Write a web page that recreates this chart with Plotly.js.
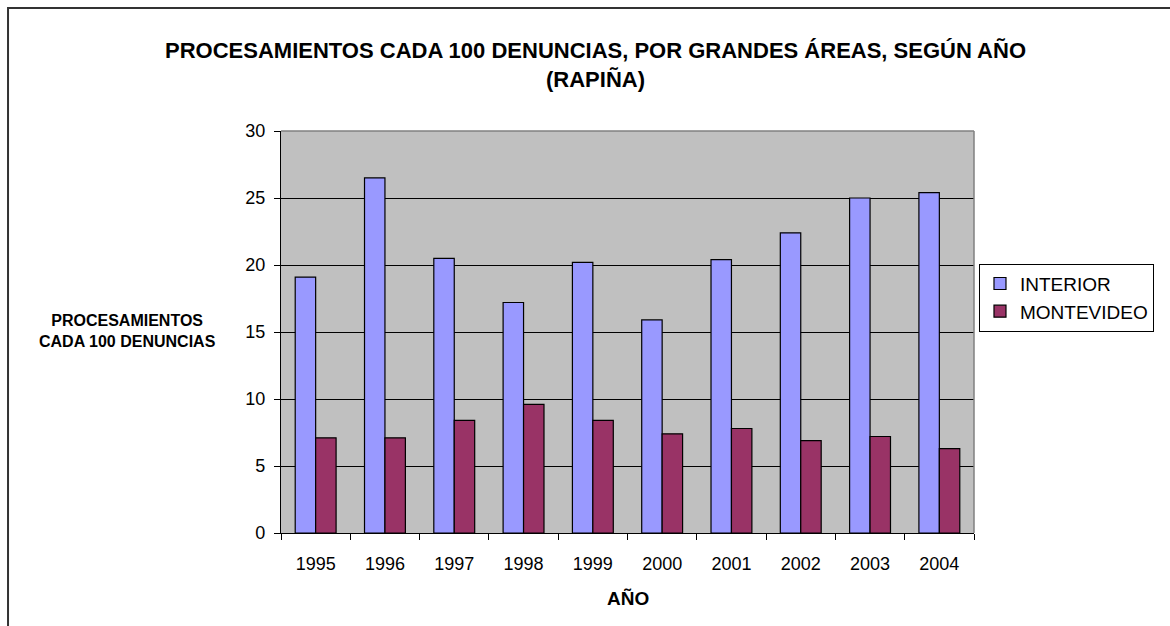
<!DOCTYPE html>
<html>
<head>
<meta charset="utf-8">
<script src="https://cdn.plot.ly/plotly-3.0.1.min.js"></script>
<style>
html,body{margin:0;padding:0;background:#fff;}
#chart{width:1170px;height:626px;}
</style>
</head>
<body>
<div id="chart"></div>
<script>
const years = ["1995","1996","1997","1998","1999","2000","2001","2002","2003","2004"];
const interior = [19.1, 26.5, 20.5, 17.2, 20.2, 15.9, 20.4, 22.4, 25.0, 25.4];
const montevideo = [7.1, 7.1, 8.4, 9.6, 8.4, 7.4, 7.8, 6.9, 7.2, 6.3];
const yTicks = [0, 5, 10, 15, 20, 25, 30];

const FONT = "Liberation Sans, Arial, sans-serif";

const traces = [
  {type:"bar", name:"INTERIOR", x:years, y:interior,
   marker:{color:"#9999FF", line:{color:"#000", width:1.2}}},
  {type:"bar", name:"MONTEVIDEO", x:years, y:montevideo,
   marker:{color:"#993366", line:{color:"#000", width:1.2}}}
];

const layout = {
  width:1170, height:626,
  margin:{l:281, r:196, t:131, b:93},
  paper_bgcolor:"#fff",
  plot_bgcolor:"#C0C0C0",
  barmode:"group",
  bargap:0.41,
  bargroupgap:0,
  font:{family:FONT, color:"#000"},
  title:{text:"<b>PROCESAMIENTOS CADA 100 DENUNCIAS, POR GRANDES ÁREAS, SEGÚN AÑO<br>(RAPIÑA)</b>",
         x:0.509, xanchor:"center", y:0.907, yanchor:"middle",
         font:{family:FONT, size:22, color:"#000"}},
  xaxis:{type:"category", showgrid:false, zeroline:false,
         showline:true, linecolor:"#000", linewidth:1.2,
         ticks:"outside", tickson:"boundaries", ticklen:6, tickcolor:"#000", tickwidth:1,
         ticklabelstandoff:14,
         tickfont:{family:FONT, size:18, color:"#000"}},
  yaxis:{range:[0,30], tickvals:yTicks, showgrid:true, gridcolor:"#000", gridwidth:1,
         zeroline:false, showline:true, linecolor:"#000", linewidth:1.2,
         ticks:"outside", ticklen:6, tickcolor:"#000",
         ticklabelstandoff:5,
         tickfont:{family:FONT, size:18, color:"#000"}},
  legend:{x:1.0072, y:0.67, xanchor:"left", yanchor:"top",
          bordercolor:"#000", borderwidth:1, bgcolor:"#fff",
          font:{family:FONT, size:19, color:"#000"}},
  annotations:[
    {xref:"paper", yref:"paper", x:-0.2222, y:0.5025, xanchor:"center", yanchor:"middle",
     showarrow:false, text:"<b>PROCESAMIENTOS<br>CADA 100 DENUNCIAS</b>",
     font:{family:FONT, size:16, color:"#000"}},
    {xref:"paper", yref:"paper", x:0.5, y:-0.1617, xanchor:"center", yanchor:"middle",
     showarrow:false, text:"<b>AÑO</b>", font:{family:FONT, size:19, color:"#000"}}
  ],
  shapes:[
    {type:"line", xref:"paper", yref:"paper", x0:0, x1:1, y0:1, y1:1, line:{color:"#808080", width:1.5}},
    {type:"line", xref:"paper", yref:"paper", x0:1, x1:1, y0:0, y1:1, line:{color:"#808080", width:1.5}},
    {type:"rect", xref:"paper", yref:"paper", x0:-0.3939, x1:1.35, y0:-0.3, y1:1.306,
     line:{color:"#333", width:2}, fillcolor:"rgba(0,0,0,0)"}
  ]
};

Plotly.newPlot("chart", traces, layout, {displayModeBar:false, staticPlot:true});
</script>
</body>
</html>
